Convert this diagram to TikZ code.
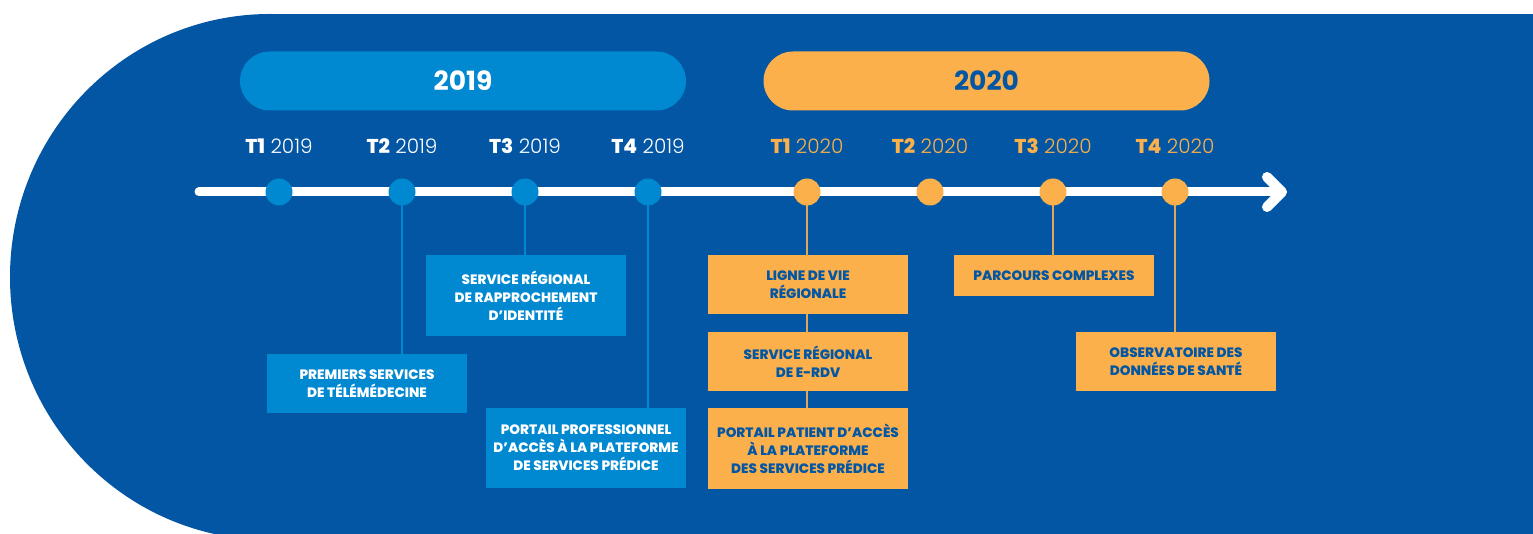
\documentclass[tikz,border=0pt]{standalone}
\usepackage{fontspec}
\setmainfont{Poppins}
\newfontfamily\lightf{Poppins Light}
\newfontfamily\xbf{Poppins ExtraBold}
\definecolor{dblue}{HTML}{0256A3}
\definecolor{lblue}{HTML}{0088D1}
\definecolor{orng}{HTML}{FBB04B}
\begin{document}
\begin{tikzpicture}[x=1pt,y=-1pt,
  pill/.style={rounded corners=29.5pt, minimum width=446pt, minimum height=59pt, inner sep=0pt, font=\fontsize{26.5}{26.5}\selectfont\bfseries},
  qlab/.style={font=\fontsize{20}{20}\selectfont, anchor=base, inner sep=0pt},
  dot/.style={circle, minimum size=27pt, inner sep=0pt},
  ebox/.style={minimum width=200pt, align=center, inner sep=0pt, font=\fontsize{13.6}{18}\selectfont\xbf},
  bbox/.style={ebox, fill=lblue, text=white},
  obox/.style={ebox, fill=orng, text=dblue},
  bcon/.style={draw=lblue, line width=1.2pt},
  ocon/.style={draw=orng!80!gray, line width=1.2pt},
  tline/.style={draw=white, line width=9pt, line cap=round, line join=round}
]
\useasboundingbox (0,0) rectangle (1533,534);
\begin{scope}
  \clip (0,0) rectangle (1533,534);
  \fill[dblue] (270,277) ellipse [x radius=260, y radius=263];
  \fill[dblue] (270,14) rectangle (1533,545);
\end{scope}

% year pills
\node[pill, fill=lblue, text=white] (y19) at (463,81) {2019};
\node[pill, fill=orng, text=dblue] (y20) at (986.5,81) {2020};

% quarter labels
\node[qlab, text=white] (q1) at (279,154) {{\xbf T1} {\lightf 2019}};
\node[qlab, text=white] (q2) at (402,154) {{\xbf T2} {\lightf 2019}};
\node[qlab, text=white] (q3) at (525,154) {{\xbf T3} {\lightf 2019}};
\node[qlab, text=white] (q4) at (648,154) {{\xbf T4} {\lightf 2019}};
\node[qlab, text=orng] (q5) at (807,154) {{\xbf T1} {\lightf 2020}};
\node[qlab, text=orng] (q6) at (930,154) {{\xbf T2} {\lightf 2020}};
\node[qlab, text=orng] (q7) at (1053,154) {{\xbf T3} {\lightf 2020}};
\node[qlab, text=orng] (q8) at (1175,154) {{\xbf T4} {\lightf 2020}};

% boxes
\node[bbox, minimum height=59pt] (b1) at (367,383.5) {PREMIERS SERVICES\\DE TÉLÉMÉDECINE};
\node[bbox, minimum height=81pt] (b2) at (526,295.5) {SERVICE RÉGIONAL\\DE RAPPROCHEMENT\\D’IDENTITÉ};
\node[bbox, minimum height=80pt] (b3) at (586,448) {PORTAIL PROFESSIONNEL\\D’ACCÈS À LA PLATEFORME\\DE SERVICES PRÉDICE};
\node[obox, minimum height=59pt] (o1) at (808,284.5) {LIGNE DE VIE\\RÉGIONALE};
\node[obox, minimum height=59pt] (o2) at (808,361.5) {SERVICE RÉGIONAL\\DE E-RDV};
\node[obox, minimum height=81pt] (o3) at (808,448.5) {PORTAIL PATIENT D’ACCÈS\\À LA PLATEFORME\\DES SERVICES PRÉDICE};
\node[obox, minimum height=41pt] (o4) at (1054,275.5) {PARCOURS COMPLEXES};
\node[obox, minimum height=59pt] (o5) at (1176,361.5) {OBSERVATOIRE DES\\DONNÉES DE SANTÉ};

% timeline
\coordinate (tl) at (199,192);
\coordinate (tr) at (1282,192);
\coordinate (ha) at (1267,177);
\coordinate (hb) at (1267,207);
\draw[tline] (tl) -- (tr);
\draw[tline, line width=10pt] (ha) -- (tr) -- (hb);

% dot coordinates
\coordinate (p1) at (279,192);
\coordinate (p2) at (402,192);
\coordinate (p3) at (525,192);
\coordinate (p4) at (648,192);
\coordinate (p5) at (807,192);
\coordinate (p6) at (930,192);
\coordinate (p7) at (1053,192);
\coordinate (p8) at (1175,192);

% connectors
\draw[bcon] (p2) -- (p2 |- b1.north);
\draw[bcon] (p3) -- (p3 |- b2.north);
\draw[bcon] (p4) -- (p4 |- b3.north);
\draw[ocon] (p5) -- (p5 |- o1.north);
\draw[ocon] (o1.south -| p5) -- (o2.north -| p5);
\draw[ocon] (o2.south -| p5) -- (o3.north -| p5);
\draw[ocon] (p7) -- (p7 |- o4.north);
\draw[ocon] (p8) -- (p8 |- o5.north);

% dots
\node[dot, fill=lblue] (d1) at (p1) {};
\node[dot, fill=lblue] (d2) at (p2) {};
\node[dot, fill=lblue] (d3) at (p3) {};
\node[dot, fill=lblue] (d4) at (p4) {};
\node[dot, fill=orng] (d5) at (p5) {};
\node[dot, fill=orng] (d6) at (p6) {};
\node[dot, fill=orng] (d7) at (p7) {};
\node[dot, fill=orng] (d8) at (p8) {};
\end{tikzpicture}
\end{document}
